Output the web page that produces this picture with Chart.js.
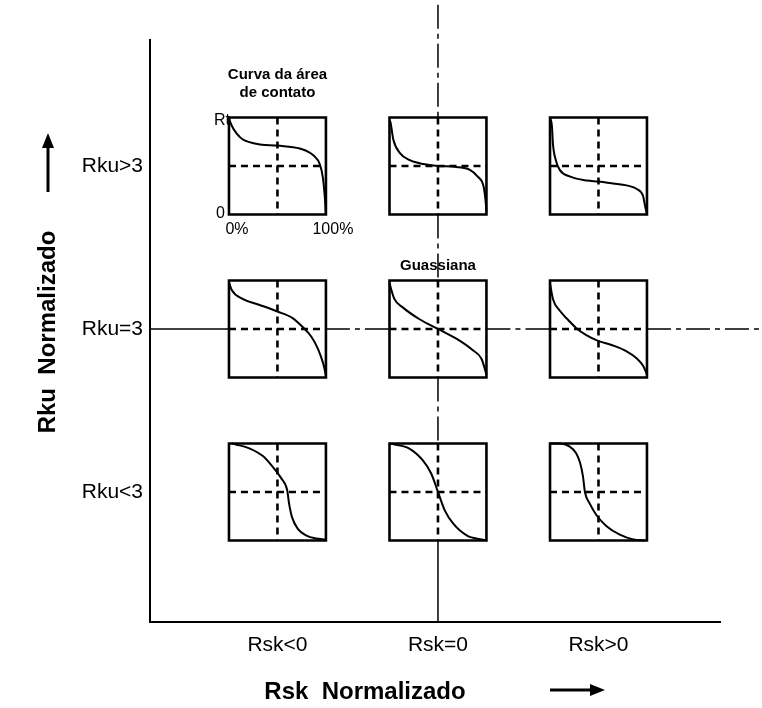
<!DOCTYPE html>
<html>
<head>
<meta charset="utf-8">
<script src="https://cdn.jsdelivr.net/npm/chart.js@4.4.1/dist/chart.umd.min.js"></script>
<style>
  html, body { margin: 0; padding: 0; background: #fff; }
  canvas { display: block; }
</style>
</head>
<body>
<canvas id="surfaceChart" width="762" height="708"></canvas>
<script>
// axis categories
var rskLabels = ['Rsk<0', 'Rsk=0', 'Rsk>0'];
var rskValues = [-1, 0, 1];
var rkuLabels = ['Rku<3', 'Rku=3', 'Rku>3'];
var rkuValues = [-1, 0, 1];

// bearing area curves: [material ratio %, height % of Rt]
var curveKuHighSkNeg  = [[0,100],[1,96],[11,80],[28,73],[50,71],[73,68],[87,61],[94,51],[97,37],[99,16],[100,0]];
var curveKuHighSkZero = [[0,97],[1,95],[4,77],[11,63],[21,56],[35,52],[50,50],[69,49],[83,46],[91,39],[97,29],[99,15],[100,3]];
var curveKuHighSkPos  = [[0,100],[2,91],[3,73],[6,56],[10,46],[21,39],[38,35],[50,34],[65,32],[79,30],[90,26],[96,19],[98,9],[100,0]];
var curveKuNormSkNeg  = [[0,98],[3,90],[14,81],[31,75],[50,68],[66,61],[76,52],[85,42],[92,29],[97,15],[99,7],[100,2]];
var curveKuNormSkZero = [[0,97],[5,81],[14,72],[31,60],[50,50],[69,40],[86,28],[95,19],[100,3]];
var curveKuNormSkPos  = [[0,97],[3,81],[10,69],[19,59],[28,50],[37,44],[49,38],[65,33],[79,27],[89,20],[96,12],[100,3]];
var curveKuLowSkNeg   = [[3,100],[7,99],[21,95],[35,87],[45,76],[54,64],[60,52],[62,38],[65,24],[71,12],[80,5],[90,2],[99,1]];
var curveKuLowSkZero  = [[0,100],[5,99],[20,95],[34,83],[43,69],[50,50],[57,31],[66,17],[80,5],[95,1],[100,0]];
var curveKuLowSkPos   = [[0,100],[10,100],[20,97],[27,90],[31,80],[34,66],[36,50],[41,38],[48,26],[58,15],[72,6],[86,1],[98,0]];

var panels = [
  { sk: -1, ku: 1,  curve: curveKuHighSkNeg },
  { sk: 0,  ku: 1,  curve: curveKuHighSkZero },
  { sk: 1,  ku: 1,  curve: curveKuHighSkPos },
  { sk: -1, ku: 0,  curve: curveKuNormSkNeg },
  { sk: 0,  ku: 0,  curve: curveKuNormSkZero },
  { sk: 1,  ku: 0,  curve: curveKuNormSkPos },
  { sk: -1, ku: -1, curve: curveKuLowSkNeg },
  { sk: 0,  ku: -1, curve: curveKuLowSkZero },
  { sk: 1,  ku: -1, curve: curveKuLowSkPos }
];

// layout of the diagram in axis units
var xMin = -1.794, xMax = 1.757, yMin = -1.798, yMax = 1.773;
var halfW = 0.302, halfH = 0.2975;
var guideTop = 1.99, guideRight = 2.02;
var font = '"Liberation Sans", Arial, sans-serif';

function toAxis(p, u, v) {
  return { x: p.sk - halfW + u / 100 * 2 * halfW, y: p.ku - halfH + v / 100 * 2 * halfH };
}

function line(data, width, dash, extra) {
  var ds = {
    data: data,
    showLine: true,
    borderColor: '#000',
    borderWidth: width,
    borderDash: dash || [],
    pointRadius: 0,
    pointHoverRadius: 0,
    fill: false
  };
  for (var k in extra) ds[k] = extra[k];
  return ds;
}

var datasets = [];

// curves first so they sit on top
panels.forEach(function(p) {
  var pts = p.curve.map(function(c) { return toAxis(p, c[0], c[1]); });
  datasets.push(line(pts, 2, null, { cubicInterpolationMode: 'monotone' }));
});

// frames and dashed mid lines
panels.forEach(function(p) {
  datasets.push(line([toAxis(p, 0, 100), toAxis(p, 100, 100), toAxis(p, 100, 0), toAxis(p, 0, 0), toAxis(p, 0, 100)],
    2.6, null, { borderCapStyle: 'square', borderJoinStyle: 'miter' }));
  datasets.push(line([toAxis(p, 50, 100), toAxis(p, 50, 0)], 2.6, [7, 5]));
  datasets.push(line([toAxis(p, 0, 50), toAxis(p, 100, 50)], 2.6, [7, 5]));
});

// center guide lines (dash-dot), broken where the panels sit
var dashDot = [24, 5, 5, 5];
var vStops = [guideTop];
rkuValues.slice().reverse().forEach(function(k) { vStops.push(k + halfH, k - halfH); });
vStops.push(yMin);
for (var i = 0; i < vStops.length; i += 2) {
  var last = i === vStops.length - 2;
  datasets.push(line([{ x: 0, y: vStops[i] }, { x: 0, y: vStops[i + 1] }], 1.5, last ? null : dashDot, { clip: false }));
}
var hStops = [xMin];
rskValues.forEach(function(s) { hStops.push(s - halfW, s + halfW); });
hStops.push(guideRight);
for (var j = 0; j < hStops.length; j += 2) {
  datasets.push(line([{ x: hStops[j], y: 0 }, { x: hStops[j + 1], y: 0 }], 1.5, j === 0 ? null : dashDot, { clip: false }));
}

function arrow(ctx, x1, y1, x2, y2) {
  var a = Math.atan2(y2 - y1, x2 - x1), head = 15, wing = 6;
  ctx.beginPath();
  ctx.lineWidth = 3;
  ctx.moveTo(x1, y1);
  ctx.lineTo(x2 - head * Math.cos(a), y2 - head * Math.sin(a));
  ctx.stroke();
  ctx.beginPath();
  ctx.moveTo(x2, y2);
  ctx.lineTo(x2 - head * Math.cos(a) - wing * Math.sin(a), y2 - head * Math.sin(a) + wing * Math.cos(a));
  ctx.lineTo(x2 - head * Math.cos(a) + wing * Math.sin(a), y2 - head * Math.sin(a) - wing * Math.cos(a));
  ctx.closePath();
  ctx.fill();
}

var notes = {
  id: 'notes',
  beforeDraw: function(chart) {
    var ctx = chart.ctx;
    ctx.save();
    ctx.fillStyle = '#fff';
    ctx.fillRect(0, 0, chart.width, chart.height);
    ctx.restore();
  },
  afterDraw: function(chart) {
    var ctx = chart.ctx, xs = chart.scales.x, ys = chart.scales.y, area = chart.chartArea;
    ctx.save();
    ctx.fillStyle = '#000';
    ctx.strokeStyle = '#000';
    ctx.textBaseline = 'middle';

    // axis titles with arrows
    ctx.font = 'bold 24px ' + font;
    ctx.textAlign = 'center';
    ctx.fillText('Rsk  Normalizado', area.left + 215, area.bottom + 70);
    arrow(ctx, area.left + 400, area.bottom + 68, area.left + 455, area.bottom + 68);
    ctx.save();
    ctx.translate(area.left - 102, area.top + 292);
    ctx.rotate(-Math.PI / 2);
    ctx.fillText('Rku  Normalizado', 0, 0);
    ctx.restore();
    arrow(ctx, area.left - 102, area.top + 152, area.left - 102, area.top + 93);

    // legend of the first panel
    var p = panels[0];
    var L = xs.getPixelForValue(p.sk - halfW), R = xs.getPixelForValue(p.sk + halfW);
    var T = ys.getPixelForValue(p.ku + halfH), B = ys.getPixelForValue(p.ku - halfH);
    ctx.font = 'bold 15px ' + font;
    ctx.fillText('Curva da área', (L + R) / 2, T - 43);
    ctx.fillText('de contato', (L + R) / 2, T - 25);
    ctx.font = '16px ' + font;
    ctx.fillText('0%', L + 8, B + 15);
    ctx.fillText('100%', R + 7, B + 15);
    ctx.textAlign = 'right';
    ctx.fillText('Rt', L + 1, T + 3);
    ctx.fillText('0', L - 4, B - 1);

    // gaussian panel caption
    var g = panels[4];
    ctx.textAlign = 'center';
    ctx.font = 'bold 15px ' + font;
    ctx.fillText('Guassiana', xs.getPixelForValue(g.sk), ys.getPixelForValue(g.ku + halfH) - 15);
    ctx.restore();
  }
};

var ctx = document.getElementById('surfaceChart').getContext('2d');
var surfaceChart = new Chart(ctx, {
  type: 'scatter',
  data: { datasets: datasets },
  plugins: [notes],
  options: {
    responsive: false,
    animation: false,
    devicePixelRatio: 1,
    layout: { padding: { left: 0, top: 40, right: 42, bottom: 0 } },
    plugins: { legend: { display: false }, tooltip: { enabled: false } },
    scales: {
      x: {
        type: 'linear', min: xMin, max: xMax,
        afterBuildTicks: function(s) { s.ticks = rskValues.map(function(v) { return { value: v }; }); },
        afterFit: function(s) { s.height = 86; },
        ticks: {
          callback: function(v) { return rskLabels[rskValues.indexOf(v)]; },
          autoSkip: false, maxRotation: 0, padding: 11, color: '#000',
          font: { family: font, size: 21 }
        },
        grid: { display: false, drawTicks: false },
        border: { display: true, color: '#000', width: 2 }
      },
      y: {
        type: 'linear', min: yMin, max: yMax,
        afterBuildTicks: function(s) { s.ticks = rkuValues.map(function(v) { return { value: v }; }); },
        afterFit: function(s) { s.width = 150; },
        ticks: {
          callback: function(v) { return rkuLabels[rkuValues.indexOf(v)]; },
          autoSkip: false, padding: 7, color: '#000',
          font: { family: font, size: 21 }
        },
        grid: { display: false, drawTicks: false },
        border: { display: true, color: '#000', width: 2 }
      }
    }
  }
});
</script>
</body>
</html>
